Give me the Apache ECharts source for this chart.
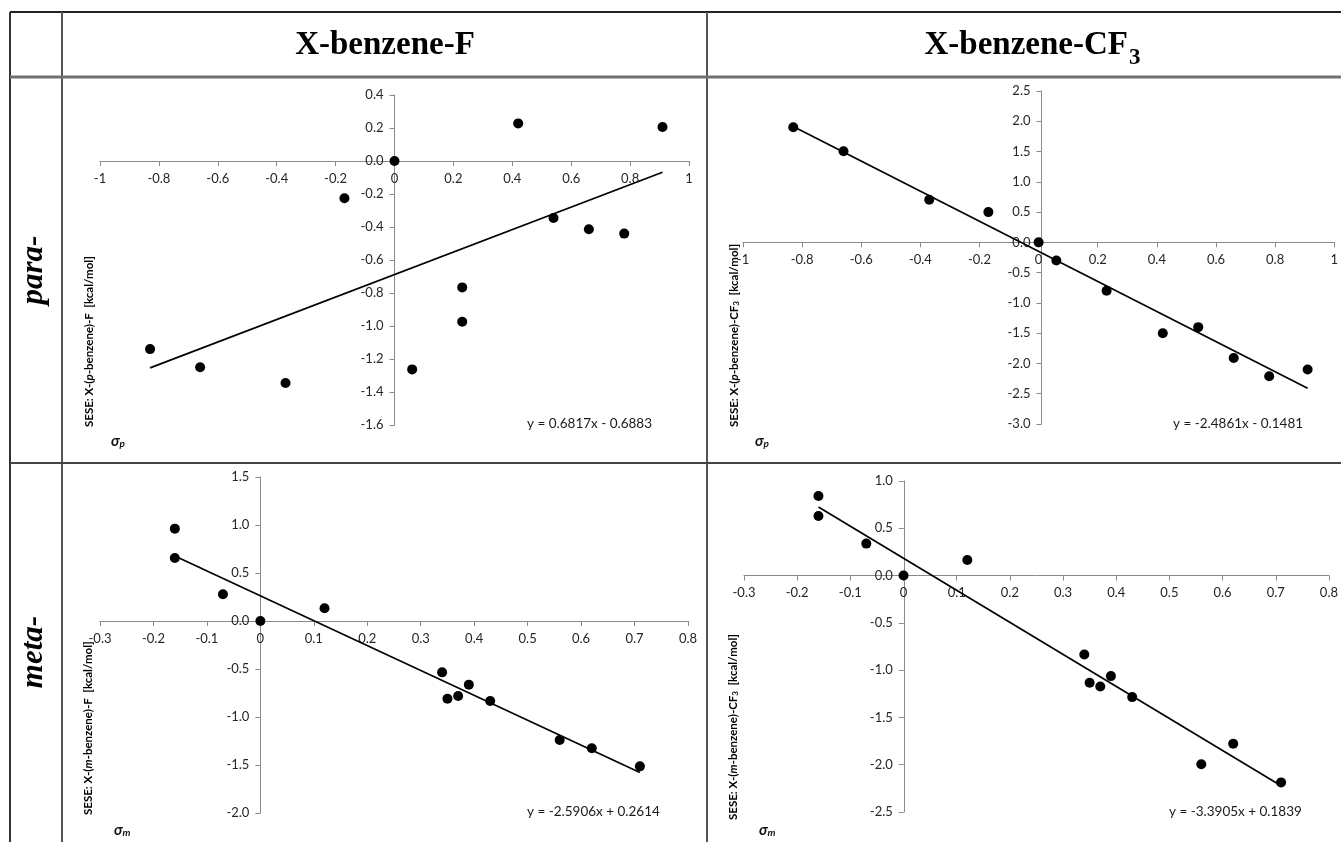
<!DOCTYPE html>
<html>
<head>
<meta charset="utf-8">
<script src="https://cdn.jsdelivr.net/npm/echarts@6/dist/echarts.min.js"></script>
<style>
html,body{margin:0;padding:0;background:#fff;}
#chart{width:1341px;height:842px;}
</style>
</head>
<body>
<div id="chart"></div>
<script>
// ---- data ----
const colHeaders = ['X-benzene-F', 'X-benzene-CF'];
const rowHeaders = ['para-', 'meta-'];

const paraFX   = [-0.83, -0.66, -0.37, -0.17, 0, 0.06, 0.23, 0.23, 0.42, 0.54, 0.66, 0.78, 0.91];
const paraFY   = [-1.14, -1.25, -1.345, -0.226, 0, -1.263, -0.766, -0.974, 0.228, -0.345, -0.414, -0.44, 0.206];
const paraCFX  = [-0.83, -0.66, -0.37, -0.17, 0, 0.06, 0.23, 0.42, 0.54, 0.66, 0.78, 0.91];
const paraCFY  = [1.90, 1.505, 0.703, 0.50, 0, -0.30, -0.80, -1.50, -1.40, -1.91, -2.21, -2.10];
const metaFX   = [-0.16, -0.16, -0.07, 0, 0.12, 0.34, 0.35, 0.37, 0.39, 0.43, 0.56, 0.62, 0.71];
const metaFY   = [0.962, 0.656, 0.278, 0, 0.132, -0.535, -0.809, -0.781, -0.663, -0.833, -1.24, -1.326, -1.514];
const metaCFX  = [-0.16, -0.16, -0.07, 0, 0.12, 0.34, 0.35, 0.37, 0.39, 0.43, 0.56, 0.62, 0.71];
const metaCFY  = [0.842, 0.630, 0.338, 0, 0.165, -0.835, -1.134, -1.173, -1.063, -1.285, -1.996, -1.778, -2.187];

// trendline end points
const trendParaF  = [[-0.83, -1.254], [0.91, -0.068]];
const trendParaCF = [[-0.83, 1.915], [0.91, -2.41]];
const trendMetaF  = [[-0.16, 0.676], [0.71, -1.578]];
const trendMetaCF = [[-0.16, 0.726], [0.71, -2.223]];

const equations = ['y = 0.6817x - 0.6883', 'y = -2.4861x - 0.1481', 'y = -2.5906x + 0.2614', 'y = -3.3905x + 0.1839'];

// axis ranges [min, max, interval]
const xRanges = [[-1, 1, 0.2], [-1, 1, 0.2], [-0.3, 0.8, 0.1], [-0.3, 0.8, 0.1]];
const yRanges = [[-1.6, 0.4, 0.2], [-3.0, 2.5, 0.5], [-2.0, 1.5, 0.5], [-2.5, 1.0, 0.5]];

// ---- layout ----
const grids = [
  {left: 100, top: 95, width: 589, height: 330},
  {left: 743, top: 91, width: 597, height: 333},
  {left: 100, top: 477, width: 588, height: 336},
  {left: 744, top: 481, width: 586, height: 331}
];

const zipXY = (xs, ys) => xs.map((x, i) => [x, ys[i]]);
const scatterData = [zipXY(paraFX, paraFY), zipXY(paraCFX, paraCFY), zipXY(metaFX, metaFY), zipXY(metaCFX, metaCFY)];
const trendData = [trendParaF, trendParaCF, trendMetaF, trendMetaCF];

const axisGray = '#8a8a8a';
const labelFont = 'Lato, "Open Sans", sans-serif';

// axes are placed where the other axis is zero (Excel style crossing)
const xAxes = xRanges.map((r, i) => {
  const yr = yRanges[i];
  const off = -grids[i].height * (0 - yr[0]) / (yr[1] - yr[0]);
  return {
    type: 'value', gridIndex: i, min: r[0], max: r[1], interval: r[2],
    position: 'bottom', offset: off,
    splitLine: {show: false},
    axisLine: {onZero: false, lineStyle: {color: axisGray, width: 1}},
    axisTick: {show: true, length: 5, lineStyle: {color: axisGray}},
    axisLabel: {margin: 11, color: '#262626', fontSize: 13, fontFamily: labelFont,
      formatter: v => String(parseFloat(Number(v).toFixed(2)))}
  };
});
const yAxes = yRanges.map((r, i) => {
  const xr = xRanges[i];
  const off = -grids[i].width * (0 - xr[0]) / (xr[1] - xr[0]);
  return {
    type: 'value', gridIndex: i, min: r[0], max: r[1], interval: r[2],
    position: 'left', offset: off,
    splitLine: {show: false},
    axisLine: {show: true, onZero: false, lineStyle: {color: axisGray, width: 1}},
    axisTick: {show: true, length: 5, lineStyle: {color: axisGray}},
    axisLabel: {margin: 11, color: '#262626', fontSize: 13, fontFamily: labelFont,
      formatter: v => Number(v).toFixed(1)}
  };
});

const series = [];
for (let i = 0; i < 4; i++) {
  series.push({type: 'line', xAxisIndex: i, yAxisIndex: i, data: trendData[i], showSymbol: false,
    symbol: 'none', lineStyle: {color: '#000', width: 1.7}, z: 2, silent: true, animation: false});
  series.push({type: 'scatter', xAxisIndex: i, yAxisIndex: i, data: scatterData[i], symbolSize: 10,
    itemStyle: {color: '#000', opacity: 1}, z: 3, animation: false});
}

// ---- graphic: table and texts ----
const g = [];
const line = (x1, y1, x2, y2, w, c) => g.push({type: 'line', shape: {x1, y1, x2, y2},
  style: {stroke: c, lineWidth: w}, z: 10, silent: true});
line(10, 12, 1341, 12, 2, '#222');
line(10, 12, 10, 842, 2, '#333');
line(62, 12, 62, 842, 2, '#555');
line(707, 12, 707, 842, 2, '#555');
line(10, 77, 1341, 77, 3, '#707070');
line(10, 463, 1341, 463, 2, '#444');

const serif = '"Liberation Serif", "Times New Roman", serif';
const headFont = 'bold 33px ' + serif;
const subFont = 'bold 23px ' + serif;
const mctx = document.createElement('canvas').getContext('2d');
mctx.font = headFont;
const wMain = mctx.measureText(colHeaders[1]).width;
mctx.font = subFont;
const wSub = mctx.measureText('3').width;
const cfStart = 1032 - (wMain + wSub) / 2;

g.push({type: 'text', x: 385, y: 45, style: {text: colHeaders[0], font: headFont,
  fill: '#000', textAlign: 'center', textVerticalAlign: 'middle'}});
g.push({type: 'text', x: cfStart, y: 45, style: {text: colHeaders[1], font: headFont,
  fill: '#000', textAlign: 'left', textVerticalAlign: 'middle'}});
g.push({type: 'text', x: cfStart + wMain + 1, y: 58, style: {text: '3', font: subFont,
  fill: '#000', textAlign: 'left', textVerticalAlign: 'middle'}});

g.push({type: 'text', x: 34, y: 270, rotation: Math.PI / 2, style: {text: rowHeaders[0],
  font: 'italic bold 31px ' + serif, fill: '#000', textAlign: 'center', textVerticalAlign: 'middle'}});
g.push({type: 'text', x: 34, y: 652, rotation: Math.PI / 2, style: {text: rowHeaders[1],
  font: 'italic bold 31px ' + serif, fill: '#000', textAlign: 'center', textVerticalAlign: 'middle'}});

// y axis titles
const yTitleRich = {
  a: {fontFamily: labelFont, fontWeight: 'bold', fontSize: 11.5, fill: '#000'},
  i: {fontFamily: labelFont, fontWeight: 'bold', fontStyle: 'italic', fontSize: 11.5, fill: '#000'},
  s: {fontFamily: labelFont, fontWeight: 'bold', fontSize: 8, fill: '#000', verticalAlign: 'bottom'}
};
const yTitles = [
  {x: 89, y: 427, t: '{a|SESE: X-(}{i|p}{a|-benzene)-F  [kcal/mol]}'},
  {x: 734, y: 427, t: '{a|SESE: X-(}{i|p}{a|-benzene)-CF}{s|3}{a|  [kcal/mol]}'},
  {x: 88, y: 815, t: '{a|SESE: X-(}{i|m}{a|-benzene)-F  [kcal/mol]}'},
  {x: 733, y: 820, t: '{a|SESE: X-(}{i|m}{a|-benzene)-CF}{s|3}{a|  [kcal/mol]}'}
];
yTitles.forEach(o => g.push({type: 'text', x: o.x, y: o.y, rotation: Math.PI / 2,
  style: {text: o.t, rich: yTitleRich, textAlign: 'left', textVerticalAlign: 'middle'}}));

// sigma labels
const sigRich = {
  s: {fontFamily: labelFont, fontWeight: 'bold', fontStyle: 'italic', fontSize: 15, fill: '#111'},
  b: {fontFamily: labelFont, fontWeight: 'bold', fontStyle: 'italic', fontSize: 10, fill: '#111', verticalAlign: 'bottom'}
};
const sigmas = [
  {x: 111, y: 441, t: '{s|σ}{b|p}'}, {x: 755, y: 441, t: '{s|σ}{b|p}'},
  {x: 114, y: 830, t: '{s|σ}{b|m}'}, {x: 759, y: 830, t: '{s|σ}{b|m}'}
];
sigmas.forEach(o => g.push({type: 'text', x: o.x, y: o.y,
  style: {text: o.t, rich: sigRich, textAlign: 'left', textVerticalAlign: 'middle'}}));

// equations
const eqPos = [[527, 424], [1173, 424], [527, 812], [1169, 812]];
eqPos.forEach((p, i) => g.push({type: 'text', x: p[0], y: p[1],
  style: {text: equations[i], font: '13.5px ' + labelFont, fill: '#1a1a1a', textAlign: 'left', textVerticalAlign: 'middle'}}));

const chart = echarts.init(document.getElementById('chart'), null, {renderer: 'canvas'});
chart.setOption({
  animation: false,
  backgroundColor: '#fff',
  grid: grids.map(gr => Object.assign({containLabel: false}, gr)),
  xAxis: xAxes,
  yAxis: yAxes,
  series: series,
  graphic: g
});
</script>
</body>
</html>
